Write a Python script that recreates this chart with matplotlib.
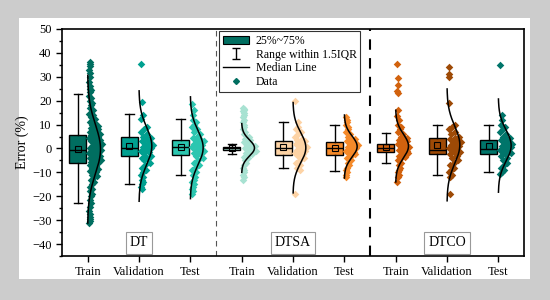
import numpy as np
import matplotlib
matplotlib.use('Agg')
import matplotlib.pyplot as plt
from matplotlib.patches import Patch, Rectangle
from matplotlib.lines import Line2D

plt.rcParams['font.family'] = ['Liberation Serif', 'DejaVu Serif']

# groups / labels
groups = ['DT', 'DTSA', 'DTCO']
sets = ['Train', 'Validation', 'Test']
colors = ['#006e60', '#00a090', '#2cc6b0',
          '#a8e2d2', '#fdd3a5', '#f58a2a',
          '#d2620e', '#9e4a06', '#00756a']

# box statistics
q1 = [-6.2, -3.3, -2.6, -0.6, -2.6, -2.7, -1.5, -2.3, -2.2]
med = [-0.6, 0.0, 0.8, 0.0, 0.0, 0.0, 0.0, -0.5, -0.3]
q3 = [5.5, 5.0, 3.5, 0.6, 3.0, 2.5, 1.8, 4.4, 3.6]
mean = [-0.3, 1.0, 0.5, 0.0, 0.5, 0.3, 0.5, 1.5, 1.0]
whis_lo = [-23.0, -14.7, -11.0, -2.3, -8.3, -9.3, -6.0, -11.3, -10.0]
whis_hi = [22.7, 14.3, 12.3, 2.0, 11.0, 10.0, 6.3, 10.0, 10.0]

# normal distribution curves (mean, sd)
curve_mu = [-0.3, 1.0, 0.3, 0.2, 0.3, 0.8, 1.0, 1.5, 1.2]
curve_sd = [10.3, 7.7, 7.1, 3.4, 6.3, 4.4, 5.0, 7.8, 6.5]

# data points
dt_train = [36, 35.5, 34.5, 33, 31.5, 30, 28, 26, 25, 24.5, 23.5, 22, 21, 20, 19, 18, 17, 16,
            15, 14.5, 14, 13, 12.5, 12, 11, 10.5, 10, 9.5, 9, 8.5, 8, 7.5, 7, 7, 6.5, 6, 6, 5.5,
            5, 5, 4.5, 4, 4, 3.5, 3, 3, 2.5, 2, 2, 1.5, 1, 1, 0.5, 0, 0, -0.5, -0.5, -1, -1, -1.5,
            -2, -2, -2.5, -3, -3, -3.5, -4, -4, -4.5, -5, -5, -5.5, -6, -6.5, -7, -7.5, -8, -8.5,
            -9, -9.5, -10, -11, -11.5, -12, -13, -14, -15, -16, -17, -18, -19, -20, -21.5, -23,
            -24.5, -26, -27.5, -28.5, -29.5, -30.5, -31]
dt_val = [35.5, 19.5, 14, 12.5, 9, 8, 7, 6, 5, 4.5, 4, 3, 2.5, 2, 1.5, 1, 0.5, 0, -0.5, -1,
          -1.5, -2, -3, -3.5, -4, -4.5, -5, -6, -7, -8, -9, -10, -11, -12, -13, -14, -15, -16, -17]
dt_test = [18.5, 16, 14, 12, 11, 10, 9, 8, 7, 6, 5, 4.5, 4, 3.5, 3, 2.5, 2, 1.5, 1, 0.5, 0,
           -0.5, -1, -1.5, -2, -2.5, -3, -4, -5, -6, -7, -8, -9, -10, -11, -12, -13, -14, -15,
           -16, -17, -18, -19]
dtsa_train = [17, 16.5, 16, 15.5, 15, 14, 13, 12, 11, 10, 9, 8, 7, 6, 5, 4.5, 4, 3.5, 3, 2.5,
              2, 1.5, 1, 0.5, 0, 0, -0.5, -1, -1.5, -2, -2.5, -3, -3.5, -4, -5, -6, -7, -8, -9,
              -10, -11, -12, -13]
dtsa_val = [20, 11, 9, 8, 7, 6, 5, 4, 3.5, 3, 2.5, 2, 1.5, 1, 0.5, 0, -0.5, -1, -1.5, -2,
            -2.5, -3, -4, -5, -6, -7, -8, -9, -19]
dtsa_test = [13, 12, 11, 10, 9, 8, 7, 6, 5, 4, 3.5, 3, 2.5, 2, 1.5, 1, 0.5, 0, -0.5, -1, -1.5,
             -2, -2.5, -3, -4, -5, -6, -7, -8, -9, -10, -11, -12]
dtco_train = [35.5, 29.5, 26.5, 24, 23, 16, 13.5, 12, 10, 9, 8, 7, 6, 5, 4.5, 4, 3.5, 3, 2.5, 2,
              1.5, 1, 0.5, 0, -0.5, -1, -1.5, -2, -2.5, -3, -3.5, -4, -5, -6, -7, -8, -9, -10,
              -11, -12, -14]
dtco_val = [34, 31, 30, 19, 10, 9, 8, 7, 6, 5, 4.5, 4, 3.5, 3, 2.5, 2, 1.5, 1, 0.5, 0, -0.5,
            -1, -1.5, -2, -2.5, -3, -4, -5, -6, -7, -8, -9, -10, -11, -12, -19]
dtco_test = [35, 14, 12, 10, 9, 8, 7, 6, 5, 4.5, 4, 3.5, 3, 2.5, 2, 1.5, 1, 0.5, 0, -0.5, -1,
             -1.5, -2, -2.5, -3, -4, -5, -6, -7, -8, -9, -10, -10.5]

data = [dt_train, dt_val, dt_test, dtsa_train, dtsa_val, dtsa_test, dtco_train, dtco_val, dtco_test]
positions = np.arange(1, 10)

fig = plt.figure(figsize=(5.5, 3.0), dpi=100, facecolor='#cccccc')
fig.patches.append(Rectangle((0.0345, 0.07), 0.929, 0.87, transform=fig.transFigure,
                             facecolor='white', edgecolor='none', zorder=-10))
ax = fig.add_axes([0.1127, 0.1467, 0.84, 0.7567])
ax.set_zorder(1)

# box plots (left of each position)
stats = []
for i in range(9):
    stats.append(dict(q1=q1[i], med=med[i], q3=q3[i], mean=mean[i],
                      whislo=whis_lo[i], whishi=whis_hi[i], fliers=[]))
bp = ax.bxp(stats, positions=positions - 0.19, widths=0.33, capwidths=0.17,
            patch_artist=True, showmeans=True, showfliers=False,
            boxprops=dict(edgecolor='black', linewidth=1.0),
            whiskerprops=dict(color='black', linewidth=1.0),
            capprops=dict(color='black', linewidth=1.0),
            medianprops=dict(color='black', linewidth=1.0),
            meanprops=dict(marker='s', markerfacecolor='none', markeredgecolor='black',
                           markersize=4.5, markeredgewidth=0.8),
            manage_ticks=False)
for patch, c in zip(bp['boxes'], colors):
    patch.set_facecolor(c)

# half distribution curves + scattered points (right of each position)
for i in range(9):
    p = positions[i]
    mu, sd = curve_mu[i], curve_sd[i]
    y = np.linspace(mu - 3 * sd, mu + 3 * sd, 200)
    g = np.exp(-0.5 * ((y - mu) / sd) ** 2)
    vals = np.array(data[i], dtype=float)
    gv = np.exp(-0.5 * ((vals - mu) / sd) ** 2)
    frac = (np.arange(len(vals)) * 0.6180339 + 0.3) % 1.0
    xs = p + 0.03 + frac * (0.02 + 0.24 * gv)
    ax.scatter(xs, vals, marker='D', s=15, color=colors[i], linewidths=0, zorder=3)
    ax.plot(p + 0.25 * g, y, color='black', linewidth=1.1, zorder=4)

# separators
ax.axvline(3.5, color='#555555', linestyle=(0, (5, 4)), linewidth=0.8)
ax.axvline(6.5, color='black', linestyle=(0, (5, 4)), linewidth=1.5)

# group labels
for k, name in enumerate(groups):
    ax.text(2 + 3 * k, -39.5, name, ha='center', va='center', fontsize=10,
            bbox=dict(facecolor='white', edgecolor='#999999', boxstyle='square,pad=0.3',
                      linewidth=0.8))

ax.set_xlim(0.5, 9.5)
ax.set_ylim(-45, 50)
ax.set_xticks(positions)
ax.set_xticklabels(sets * 3, fontsize=9)
ax.set_yticks(np.arange(-40, 51, 10))
ax.set_yticks(np.arange(-45, 50, 5), minor=True)
ax.tick_params(axis='y', labelsize=9, direction='out', length=4, width=1)
ax.tick_params(axis='y', which='minor', length=2, width=1)
ax.tick_params(axis='x', direction='out', length=4, width=1)
ax.set_ylabel('Error (%)', fontsize=10, labelpad=2)
for s in ax.spines.values():
    s.set_linewidth(1.2)

# legend
eb = ax.errorbar([np.nan], [np.nan], yerr=[1], fmt='none', ecolor='black',
                 elinewidth=1, capsize=3)
handles = [Patch(facecolor='#006e60', edgecolor='black', linewidth=0.8),
           eb,
           Line2D([], [], color='black', linewidth=1),
           Line2D([], [], marker='D', color='#006e60', linestyle='none', markersize=3)]
labels = ['25%~75%', 'Range within 1.5IQR', 'Median Line', 'Data']
leg = ax.legend(handles, labels, loc='upper left', bbox_to_anchor=(0.335, 1.0),
                fontsize=8.5, frameon=True, fancybox=False, edgecolor='black',
                borderpad=0.3, labelspacing=0.15, handlelength=2.2, handletextpad=0.6,
                borderaxespad=0.2)
leg.get_frame().set_linewidth(0.8)

fig.savefig('out.png', dpi=100, facecolor=fig.get_facecolor())
